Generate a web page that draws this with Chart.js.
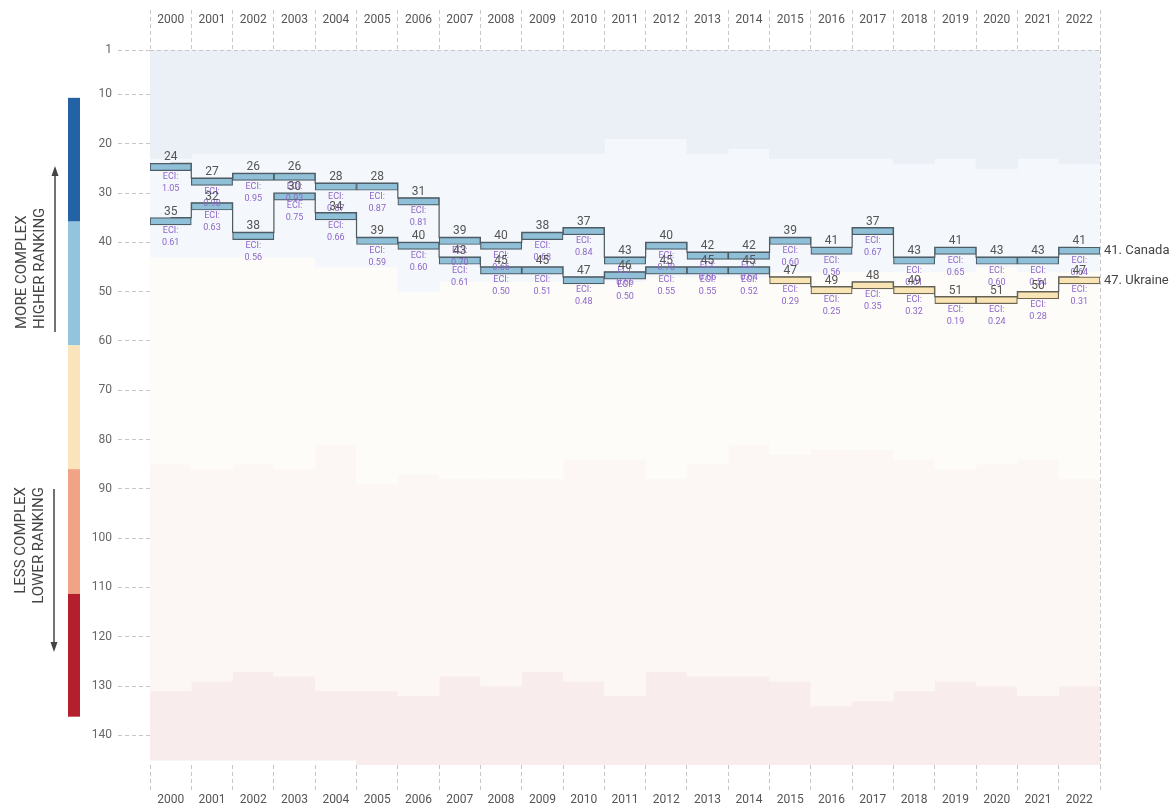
<!DOCTYPE html>
<html>
<head>
<meta charset="utf-8">
<script src="https://cdn.jsdelivr.net/npm/chart.js@4"></script>
<style>
  html, body { margin: 0; padding: 0; background: #fff; }
  #wrap { width: 1176px; height: 803px; position: relative; }
</style>
</head>
<body>
<div id="wrap"><canvas id="rankChart"></canvas></div>
<script>
const years = ["2000","2001","2002","2003","2004","2005","2006","2007","2008","2009","2010","2011",
  "2012","2013","2014","2015","2016","2017","2018","2019","2020","2021","2022"];

const canadaRank  = [24,27,26,26,28,28,31,39,40,38,37,43,40,42,42,39,41,37,43,41,43,43,41];
const ukraineRank = [35,32,38,30,34,39,40,43,45,45,47,46,45,45,45,47,49,48,49,51,51,50,47];

const canadaEci  = [1.05,0.98,0.95,0.93,0.87,0.87,0.81,0.70,0.66,0.68,0.84,0.66,0.70,0.66,0.64,0.60,0.56,0.67,0.61,0.65,0.60,0.54,0.64];
const ukraineEci = [0.61,0.63,0.56,0.75,0.66,0.59,0.60,0.61,0.50,0.51,0.48,0.50,0.55,0.55,0.52,0.29,0.25,0.35,0.32,0.19,0.24,0.28,0.31];

// background bands (rank at the lower edge of each band, per year)
const band0Edge = [1,1,1,1,1,1,1,1,1,1,1,1,1,1,1,1,1,1,1,1,1,1,1];
const band1Edge = [23,22,22,22,22,22,22,22,22,22,22,19,19,22,21,23,23,23,24,23,25,23,24];
const band2Edge = [43,43,43,43,45,45,50,48,48,48,48,48,47,47,47,46,46,46,46,46,45,46,46];
const band3Edge = [85,86,85,86,81,89,87,88,88,88,84,84,88,85,81,83,82,82,84,86,85,84,88];
const band4Edge = [131,129,127,128,131,131,132,128,130,127,129,132,127,128,128,129,134,133,131,129,130,132,130];
const band5Edge = [145,145,145,145,145,146,146,146,146,146,146,146,146,146,146,146,146,146,146,146,146,146,146];

const rankTicks = [1,10,20,30,40,50,60,70,80,90,100,110,120,130,140];
const legendBreaks = [10.7,35.8,60.9,86,111.3,136.2];

const bandColors = ["#ebeff6","#f4f7fb","#fdfcf9","#fcf7f5","#f8ecec"];
const legendColors = ["#2363a5","#93c4de","#fbe4bb","#f1a385","#b41f2d"];
const BOX = 1.45;

const edges = [band0Edge, band1Edge, band2Edge, band3Edge, band4Edge, band5Edge];
const bandSets = bandColors.map((c, i) => ({
  type: "bar",
  data: years.map((y, j) => [edges[i][j], edges[i + 1][j]]),
  backgroundColor: c,
  borderWidth: 0,
  grouped: false,
  barPercentage: 1,
  categoryPercentage: 1,
  order: 10
}));

function boxFill(ranks) {
  return ranks.map((r, j) => r < band2Edge[j] ? "#8fc0d8" : "#f8e4b4");
}
function boxLine(ranks) {
  return ranks.map((r, j) => r < band2Edge[j] ? "#4d5d66" : "#6e6550");
}

function boxSet(ranks) {
  return {
    type: "bar",
    data: ranks.map(r => [r, r + BOX]),
    backgroundColor: boxFill(ranks),
    borderColor: boxLine(ranks),
    borderWidth: 1.2,
    borderSkipped: false,
    grouped: false,
    barPercentage: 1,
    categoryPercentage: 1,
    order: 1
  };
}
function stepSet(ranks) {
  return {
    type: "line",
    data: ranks,
    stepped: "middle",
    borderColor: "#4f5a60",
    borderWidth: 1.2,
    pointRadius: 0,
    fill: false,
    order: 5
  };
}

const series = [
  { name: "Canada", ranks: canadaRank, eci: canadaEci },
  { name: "Ukraine", ranks: ukraineRank, eci: ukraineEci }
];

// labels above / below each box, and names at the right
const labelPlugin = {
  id: "labels",
  afterDatasetsDraw(chart) {
    const ctx = chart.ctx, xs = chart.scales.x, ys = chart.scales.y, area = chart.chartArea;
    ctx.save();
    // top border dashed line at rank 1 and right dashed edge
    ctx.strokeStyle = "#c6c6c6";
    ctx.lineWidth = 1;
    ctx.setLineDash([4, 3]);
    ctx.beginPath();
    ctx.moveTo(area.left, ys.getPixelForValue(1) + 0.5);
    ctx.lineTo(area.right, ys.getPixelForValue(1) + 0.5);
    ctx.moveTo(area.right + 0.5, area.top);
    ctx.lineTo(area.right + 0.5, area.bottom);
    ctx.stroke();
    ctx.setLineDash([]);

    series.forEach(s => {
      s.ranks.forEach((r, j) => {
        const x = xs.getPixelForValue(j);
        const top = ys.getPixelForValue(r);
        const bot = ys.getPixelForValue(r + BOX);
        ctx.textAlign = "center";
        ctx.fillStyle = "#555";
        ctx.font = "12px Roboto";
        ctx.textBaseline = "alphabetic";
        ctx.fillText(String(r), x, top - 3);
        ctx.fillStyle = "#8d66c9";
        ctx.font = "9px Roboto";
        ctx.textBaseline = "middle";
        ctx.fillText("ECI:", x, bot + 6);
        ctx.fillText(s.eci[j].toFixed(2), x, bot + 18);
      });
      const last = s.ranks.length - 1;
      const r = s.ranks[last];
      ctx.fillStyle = "#444";
      ctx.font = "13px Roboto";
      ctx.textAlign = "left";
      ctx.textBaseline = "middle";
      ctx.fillText(r + ". " + s.name, area.right + 4, ys.getPixelForValue(r + BOX / 2));
    });
    ctx.restore();
  }
};

// colour key and rotated captions on the left
const sidePlugin = {
  id: "side",
  afterDraw(chart) {
    const ctx = chart.ctx, ys = chart.scales.y;
    ctx.save();
    for (let i = 0; i < legendColors.length; i++) {
      const t = ys.getPixelForValue(legendBreaks[i]);
      const b = ys.getPixelForValue(legendBreaks[i + 1]);
      ctx.fillStyle = legendColors[i];
      ctx.fillRect(68, t, 12, b - t);
    }
    ctx.fillStyle = "#444";
    ctx.font = "15px Roboto";
    ctx.textBaseline = "middle";
    const rot = (txt, x, y, align) => {
      ctx.save();
      ctx.translate(x, y);
      ctx.rotate(-Math.PI / 2);
      ctx.textAlign = align;
      ctx.fillText(txt, 0, 0);
      ctx.restore();
    };
    rot("MORE COMPLEX", 22, 329, "left");
    rot("HIGHER RANKING", 40, 329, "left");
    rot("LESS COMPLEX", 21, 487, "right");
    rot("LOWER RANKING", 39, 487, "right");

    ctx.strokeStyle = "#444";
    ctx.fillStyle = "#444";
    ctx.lineWidth = 1.5;
    ctx.beginPath();
    ctx.moveTo(55, 332); ctx.lineTo(55, 174);
    ctx.moveTo(54, 489); ctx.lineTo(54, 644);
    ctx.stroke();
    ctx.beginPath();
    ctx.moveTo(55, 166); ctx.lineTo(51.5, 176); ctx.lineTo(58.5, 176); ctx.closePath();
    ctx.moveTo(54, 652); ctx.lineTo(50.5, 642); ctx.lineTo(57.5, 642); ctx.closePath();
    ctx.fill();
    ctx.restore();
  }
};

const yearGrid = (len) => ({
  offset: true,
  drawOnChartArea: false,
  tickLength: len,
  color: "#c6c6c6",
  tickBorderDash: [4, 3],
  tickWidth: 1
});

Chart.defaults.font.family = "Roboto";

const grafico = new Chart(document.getElementById("rankChart"), {
  data: {
    labels: years,
    datasets: [
      ...bandSets,
      stepSet(canadaRank),
      stepSet(ukraineRank),
      boxSet(canadaRank),
      boxSet(ukraineRank)
    ]
  },
  options: {
    responsive: true,
    maintainAspectRatio: false,
    animation: false,
    layout: { padding: { left: 0, right: 76, top: 0, bottom: 0 } },
    plugins: { legend: { display: false }, tooltip: { enabled: false } },
    scales: {
      x: {
        type: "category",
        position: "top",
        offset: true,
        grid: yearGrid(40),
        border: { display: false },
        ticks: { padding: -17, color: "#555", font: { size: 12 }, maxRotation: 0, autoSkip: false },
        afterFit(scale) { scale.height = 50; }
      },
      x2: {
        type: "category",
        labels: years,
        position: "bottom",
        offset: true,
        grid: yearGrid(26),
        border: { display: false },
        ticks: { padding: 2, color: "#555", font: { size: 12 }, maxRotation: 0, autoSkip: false },
        afterFit(scale) { scale.height = 38; }
      },
      y: {
        reverse: true,
        min: 1,
        max: 146,
        grid: {
          drawOnChartArea: false,
          tickLength: 32,
          color: "#c6c6c6",
          tickBorderDash: [4, 3]
        },
        border: { display: false },
        ticks: { padding: 6, color: "#666", font: { size: 12 } },
        afterBuildTicks(scale) { scale.ticks = rankTicks.map(v => ({ value: v })); },
        afterFit(scale) { scale.width = 150; }
      }
    }
  },
  plugins: [labelPlugin, sidePlugin]
});
</script>
</body>
</html>
